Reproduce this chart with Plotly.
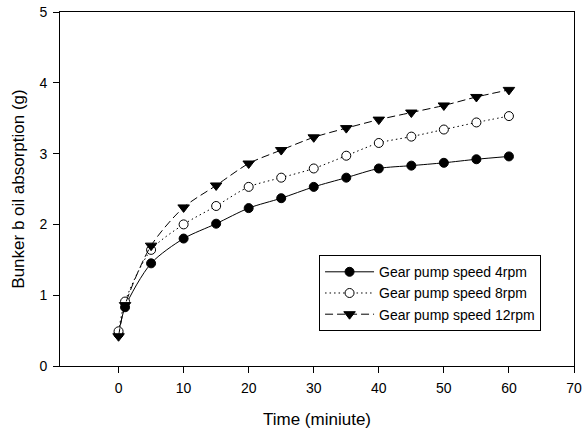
import plotly.graph_objects as go

time_min = [0, 1, 5, 10, 15, 20, 25, 30, 35, 40, 45, 50, 55, 60]
speed_4rpm = [0.45, 0.83, 1.45, 1.80, 2.01, 2.23, 2.37, 2.53, 2.66, 2.79, 2.83, 2.87, 2.92, 2.96]
speed_8rpm = [0.49, 0.91, 1.64, 2.00, 2.26, 2.53, 2.66, 2.79, 2.97, 3.15, 3.24, 3.34, 3.44, 3.53]
speed_12rpm = [0.42, 0.86, 1.70, 2.24, 2.55, 2.86, 3.05, 3.23, 3.36, 3.48, 3.58, 3.68, 3.80, 3.90]
series_names = ["Gear pump speed 4rpm", "Gear pump speed 8rpm", "Gear pump speed 12rpm"]
x_ticks = [0, 10, 20, 30, 40, 50, 60, 70]
y_ticks = [0, 1, 2, 3, 4, 5]

font_family = "Arial, Liberation Sans, sans-serif"

fig = go.Figure()
fig.add_trace(go.Scatter(
    x=time_min, y=speed_4rpm, name=series_names[0], mode="lines+markers",
    line=dict(color="black", width=1, dash="solid", shape="spline", smoothing=0.8),
    marker=dict(symbol="circle", size=9, color="black", line=dict(color="black", width=1)),
))
fig.add_trace(go.Scatter(
    x=time_min, y=speed_8rpm, name=series_names[1], mode="lines+markers",
    line=dict(color="black", width=1, dash="1.5px,3px", shape="spline", smoothing=0.8),
    marker=dict(symbol="circle", size=9, color="white", line=dict(color="black", width=1)),
))
fig.add_trace(go.Scatter(
    x=time_min, y=speed_12rpm, name=series_names[2], mode="lines+markers",
    line=dict(color="black", width=1, dash="8px,4px", shape="spline", smoothing=0.8),
    marker=dict(symbol="triangle-down", size=10, color="black", line=dict(color="black", width=1)),
))

fig.update_layout(
    width=582, height=429,
    margin=dict(l=60, r=8, t=12, b=63, autoexpand=False),
    paper_bgcolor="white", plot_bgcolor="white",
    font=dict(family=font_family, size=14, color="black"),
    showlegend=True,
    legend=dict(
        x=0.504, y=0.313, xanchor="left", yanchor="top",
        bgcolor="white", bordercolor="black", borderwidth=1,
        font=dict(family=font_family, size=14, color="black"),
        itemwidth=49, tracegroupgap=0,
    ),
    xaxis=dict(
        range=[-9, 70], tickvals=x_ticks, ticks="outside", ticklen=6, tickcolor="black",
        showline=True, linecolor="black", linewidth=1, mirror=True,
        showgrid=False, zeroline=False, automargin=False,
        tickfont=dict(size=14), ticklabelstandoff=3, ticklabeloverflow="allow",
        title=dict(text="Time (miniute)", font=dict(size=17), standoff=18),
    ),
    yaxis=dict(
        range=[0, 5], tickvals=y_ticks, ticks="outside", ticklen=6, tickcolor="black",
        showline=True, linecolor="black", linewidth=1, mirror=True,
        showgrid=False, zeroline=False, automargin=False,
        tickfont=dict(size=14), ticklabelstandoff=3, ticklabeloverflow="allow",
        title=dict(text="Bunker b oil absorption (g)", font=dict(size=17), standoff=10),
    ),
)

# Remove the browser's default 8px body margin so the figure fills the window.
fig.write_html("out.html", config={"displayModeBar": False},
               post_script="document.body.style.margin='0';")
